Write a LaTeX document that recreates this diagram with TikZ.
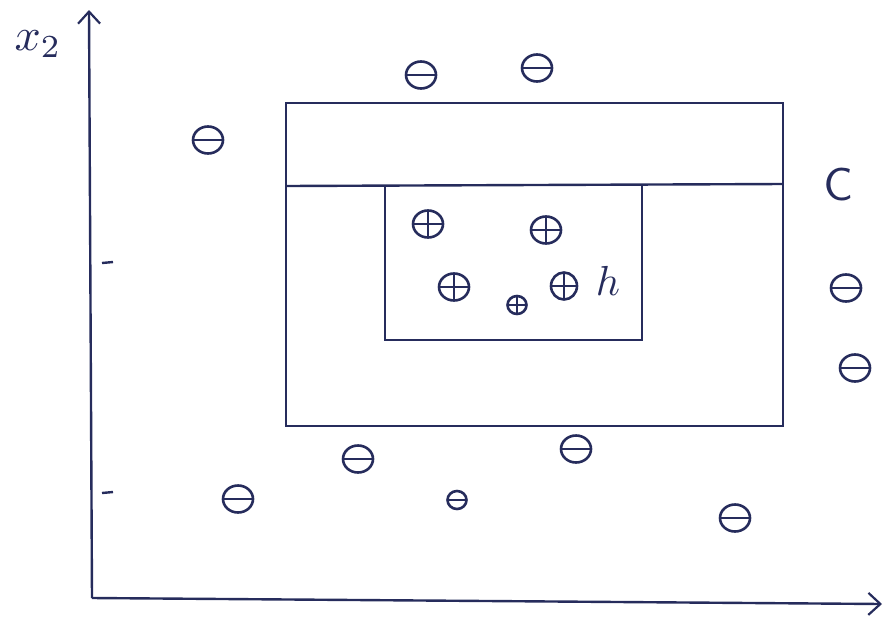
\documentclass[tikz,border=0pt]{standalone}
\usetikzlibrary{shapes.geometric,arrows.meta}
\definecolor{ink}{RGB}{38,44,92}
\begin{document}
\begin{tikzpicture}[x=1pt,y=-1pt,
  ink/.style={draw=ink, line width=2.4pt},
  axis/.style={ink, -{Straight Barb[length=12pt,width=22pt,line width=2.2pt]}},
  pt/.style={ellipse, draw=ink, line width=2.6pt, minimum width=30pt, minimum height=27pt, inner sep=0pt},
  ptsmall/.style={pt, minimum width=19pt, minimum height=18pt},
  minus/.style={path picture={\draw[ink,line width=2.2pt] (path picture bounding box.west) -- (path picture bounding box.east);}},
  plus/.style={path picture={\draw[ink,line width=2.2pt] (path picture bounding box.west) -- (path picture bounding box.east) (path picture bounding box.north) -- (path picture bounding box.south);}},
  lab/.style={text=ink, inner sep=0pt}
]
\useasboundingbox (0,0) rectangle (886,622);
% axes
\coordinate (o) at (92,598);
\coordinate (ytop) at (89,10);
\coordinate (xend) at (882,604);
\draw[axis] (o) -- (ytop);
\draw[axis] (o) -- (xend);
\node[lab, scale=4.6] (x2) at (38,44) {$x_2$};
% ticks
\coordinate (t1a) at (102,263); \coordinate (t1b) at (113,262);
\coordinate (t2a) at (102,493); \coordinate (t2b) at (113,492);
\draw[ink] (t1a) -- (t1b);
\draw[ink] (t2a) -- (t2b);
% outer rectangle C
\coordinate (c1) at (286,103);
\coordinate (c2) at (783,103);
\coordinate (c3) at (783,426);
\coordinate (c4) at (286,426);
\coordinate (m1) at (286,186);
\coordinate (m2) at (783,184);
\draw[ink] (c1) -- (c2) -- (c3) -- (c4) -- cycle;
\draw[ink] (m1) -- (m2);
% inner rectangle h
\coordinate (h1) at (385,185);
\coordinate (h2) at (385,340);
\coordinate (h3) at (642,340);
\coordinate (h4) at (642,185);
\draw[ink] (h1) -- (h2) -- (h3) -- (h4);
\node[lab, scale=4.6] (C) at (838,185) {$\mathsf{C}$};
\node[lab, scale=4.2] (h) at (608,281) {$h$};
% positive points
\node[pt, plus] (p1) at (428,224) {};
\node[pt, plus] (p2) at (546,230) {};
\node[pt, plus] (p3) at (454,287) {};
\node[ptsmall, plus] (p4) at (517,305) {};
\node[pt, plus, minimum width=26pt] (p5) at (564,286) {};
% negative points
\node[pt, minus] (n1) at (421,75) {};
\node[pt, minus] (n2) at (537,68) {};
\node[pt, minus] (n3) at (208,140) {};
\node[pt, minus] (n4) at (846,288) {};
\node[pt, minus] (n5) at (855,368) {};
\node[pt, minus] (n6) at (358,459) {};
\node[pt, minus] (n7) at (576,449) {};
\node[pt, minus] (n8) at (238,499) {};
\node[ptsmall, minus] (n9) at (457,500) {};
\node[pt, minus] (n10) at (735,518) {};
\end{tikzpicture}
\end{document}
